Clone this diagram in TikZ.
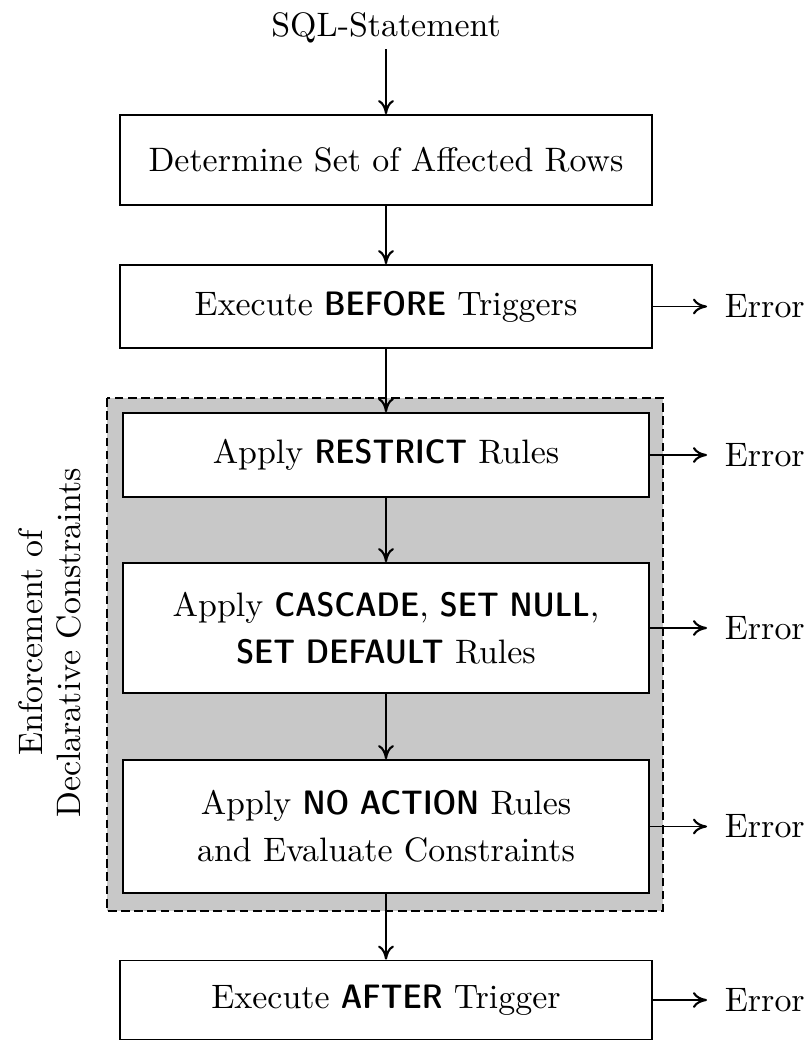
\documentclass[tikz,border=0pt]{standalone}
\usepackage{fontspec}
\setmainfont{lmroman10-regular.otf}
\setsansfont{lmsans10-regular.otf}[BoldFont=lmsansdemicond10-regular.otf]
\usepackage{tikz}
\usetikzlibrary{arrows.meta}
\usetikzlibrary{positioning}
\definecolor{zonegray}{RGB}{200,200,200}
\newcommand{\kw}[1]{\textsf{\textbf{#1}}}
\tikzset{
    stepbox/.style={
        draw,
        line width=1pt,
        fill=white,
        align=center,
        minimum width=10.64cm
    },
    flowarrow/.style={
        line width=1pt,
        black,
        ->,
        >={To[length=8pt, width=9pt, line width=1.2pt]}
    },
    % Error-Ausgang rechts
    errnode/.style={
        anchor=west,
        inner sep=0.35cm
    }
}

\begin{document}
\begin{tikzpicture}[x=0.02cm, y=-0.02cm, font=\fontsize{19.3}{26.5}\selectfont]
    \useasboundingbox (0,0) rectangle (806,1041);

    % grauer Bereich
    \draw[dash pattern=on 5pt off 2.5pt, line width=1pt, fill=zonegray] (107,398) rectangle (663,911);
    \node[rotate=90, align=center, font=\fontsize{19.3}{22}\selectfont] (zone) at (50,643)
        {Enforcement of\\Declarative Constraints};

    % Schritte
    \node (sql) at (386,28) {SQL-Statement};
    \node[stepbox, minimum height=1.8cm] (rows) at (386,160)
        {Determine Set of Affected Rows};
    \node[stepbox, minimum height=1.66cm] (before) at (386,306.5)
        {Execute \kw{BEFORE} Triggers};
    \node[stepbox, minimum width=10.52cm, minimum height=1.68cm] (restrict) at (386,455)
        {Apply \kw{RESTRICT} Rules};
    \node[stepbox, minimum width=10.52cm, minimum height=2.6cm] (cascade) at (386,628)
        {Apply \kw{CASCADE}, \kw{SET NULL},\\\kw{SET DEFAULT} Rules};
    \node[stepbox, minimum width=10.52cm, minimum height=2.66cm] (noaction) at (386,826.5)
        {Apply \kw{NO ACTION} Rules\\and Evaluate Constraints};
    \node[stepbox, minimum height=1.58cm] (after) at (386,1000)
        {Execute \kw{AFTER} Trigger};

    % Fehler
    \node[errnode] (e1) at (707,306.5) {Error};
    \node[errnode] (e2) at (707,455) {Error};
    \node[errnode] (e3) at (707,628) {Error};
    \node[errnode] (e4) at (707,826.5) {Error};
    \node[errnode] (e5) at (707,1000) {Error};

    % Pfeile
    \draw[flowarrow] (sql) -- (rows);
    \draw[flowarrow] (rows) -- (before);
    \draw[flowarrow] (before) -- (restrict);
    \draw[flowarrow] (restrict) -- (cascade);
    \draw[flowarrow] (cascade) -- (noaction);
    \draw[flowarrow] (noaction) -- (after);

    \draw[flowarrow] (before) -- (e1);
    \draw[flowarrow] (restrict) -- (e2);
    \draw[flowarrow] (cascade) -- (e3);
    \draw[flowarrow] (noaction) -- (e4);
    \draw[flowarrow] (after) -- (e5);
\end{tikzpicture}
\end{document}
